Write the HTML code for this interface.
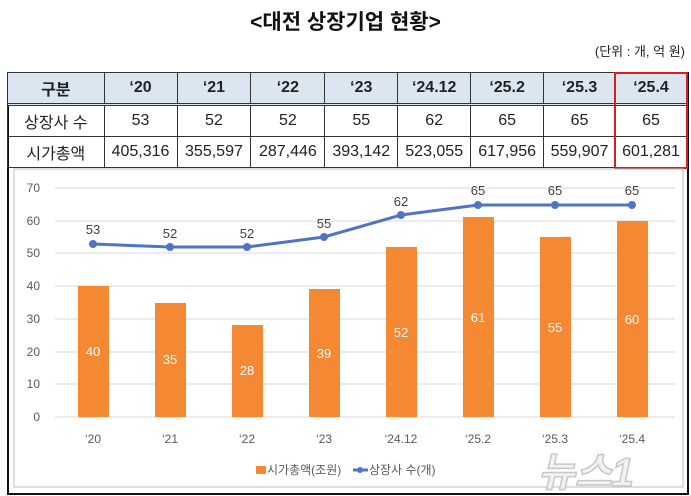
<!DOCTYPE html>
<html><head><meta charset="utf-8"><style>
body{margin:0;width:691px;height:496px;background:#fff;font-family:"Liberation Sans","Noto Sans CJK KR",sans-serif;position:relative;overflow:hidden}
.t{position:absolute;left:0;width:691px;top:6px;text-align:center;font-size:21px;font-weight:bold;color:#111}
.u{position:absolute;right:6px;top:41px;font-size:13px;color:#222}
table{position:absolute;left:7px;top:72px;border-collapse:collapse;width:680px;font-size:16px;color:#222}
td{border:1px solid #333;text-align:center;padding:0;height:30px}
tr.h td{background:#dce6f1;font-weight:bold;height:30px;border-bottom:3px double #333}
.box{position:absolute;left:7px;top:72px;width:678px;height:419px;border:2px solid #111;box-sizing:content-box}
</style></head><body>
<div class="t">&lt;대전 상장기업 현황&gt;</div>
<div class="u">(단위 : 개, 억 원)</div>
<div class="box"></div>
<table>
<colgroup><col style="width:97px"><col style="width:73px"><col style="width:74px"><col style="width:74px"><col style="width:73px"><col style="width:73px"><col style="width:73px"><col style="width:72px"><col style="width:71px"></colgroup>
<tr class="h"><td>구분</td><td>‘20</td><td>‘21</td><td>‘22</td><td>‘23</td><td>‘24.12</td><td>‘25.2</td><td>‘25.3</td><td>‘25.4</td></tr>
<tr><td>상장사 수</td><td>53</td><td>52</td><td>52</td><td>55</td><td>62</td><td>65</td><td>65</td><td>65</td></tr>
<tr><td>시가총액</td><td>405,316</td><td>355,597</td><td>287,446</td><td>393,142</td><td>523,055</td><td>617,956</td><td>559,907</td><td>601,281</td></tr>
</table>
<div style="position:absolute;left:614px;top:72px;width:70px;height:93px;border:2px solid #d42020"></div>
<svg style="position:absolute;left:0;top:0" width="691" height="496">
<rect x="14" y="169" width="669" height="318" fill="none" stroke="#bbb"/>
<g stroke="#d9d9d9" stroke-width="1">
<line x1="55" x2="675" y1="188" y2="188"/><line x1="55" x2="675" y1="221" y2="221"/><line x1="55" x2="675" y1="253" y2="253"/><line x1="55" x2="675" y1="286" y2="286"/><line x1="55" x2="675" y1="319" y2="319"/><line x1="55" x2="675" y1="352" y2="352"/><line x1="55" x2="675" y1="384" y2="384"/><line x1="55" x2="675" y1="417" y2="417"/>
</g>
<g font-size="12" fill="#595959" text-anchor="end">
<text x="40" y="192">70</text><text x="40" y="225">60</text><text x="40" y="257">50</text><text x="40" y="290">40</text><text x="40" y="323">30</text><text x="40" y="356">20</text><text x="40" y="388">10</text><text x="40" y="421">0</text>
</g>
<g fill="#f58833">
<rect x="78" y="286" width="31" height="131"/><rect x="155" y="303" width="31" height="114"/><rect x="232" y="325" width="31" height="92"/><rect x="309" y="289" width="31" height="128"/><rect x="386" y="247" width="31" height="170"/><rect x="463" y="217" width="31" height="200"/><rect x="540" y="237" width="31" height="180"/><rect x="617" y="221" width="31" height="196"/>
</g>
<g font-size="13" fill="#fff" text-anchor="middle">
<text x="93" y="356">40</text><text x="170" y="364">35</text><text x="247" y="375">28</text><text x="324" y="358">39</text><text x="401" y="337">52</text><text x="478" y="322">61</text><text x="555" y="332">55</text><text x="632" y="324">60</text>
</g>
<polyline fill="none" stroke="#4f74c6" stroke-width="3" points="93,244 170,247 247,247 324,237 401,215 478,205 555,205 632,205"/>
<g fill="#4f74c6"><circle cx="93" cy="244" r="4"/><circle cx="170" cy="247" r="4"/><circle cx="247" cy="247" r="4"/><circle cx="324" cy="237" r="4"/><circle cx="401" cy="215" r="4"/><circle cx="478" cy="205" r="4"/><circle cx="555" cy="205" r="4"/><circle cx="632" cy="205" r="4"/></g>
<g font-size="13" fill="#404040" text-anchor="middle">
<text x="93" y="234">53</text><text x="170" y="238">52</text><text x="247" y="238">52</text><text x="324" y="228">55</text><text x="401" y="206">62</text><text x="478" y="195">65</text><text x="555" y="195">65</text><text x="632" y="195">65</text>
</g>
<g font-size="12" fill="#595959" text-anchor="middle">
<text x="93" y="443">‘20</text><text x="170" y="443">‘21</text><text x="247" y="443">‘22</text><text x="324" y="443">‘23</text><text x="401" y="443">‘24.12</text><text x="478" y="443">‘25.2</text><text x="555" y="443">‘25.3</text><text x="632" y="443">‘25.4</text>
</g>
<rect x="256" y="466" width="10" height="8" fill="#f58833"/>
<text x="267" y="474" font-size="12" fill="#595959">시가총액(조원)</text>
<line x1="353" y1="470" x2="368" y2="470" stroke="#4f74c6" stroke-width="3"/><circle cx="360" cy="470" r="3" fill="#4f74c6"/>
<text x="369" y="474" font-size="12" fill="#595959">상장사 수(개)</text>
<text x="538" y="486" font-size="40" font-weight="bold" fill="#f2f2f2" stroke="#c8c8c8" stroke-width="1.5" font-style="italic">뉴스1</text>
</svg>
</body></html>
